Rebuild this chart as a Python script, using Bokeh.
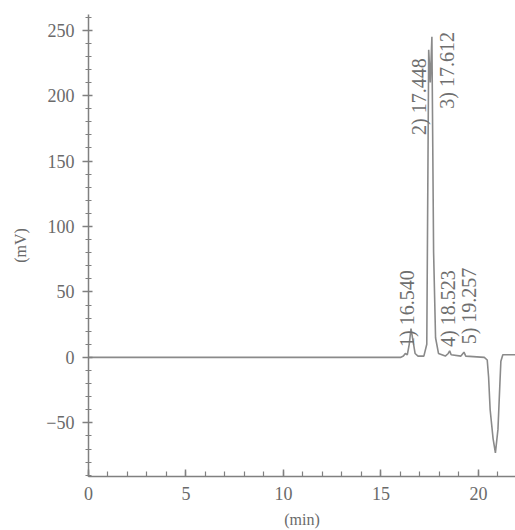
from bokeh.plotting import figure
from bokeh.models import Range1d, FixedTicker, ColumnDataSource
from bokeh.core.properties import value
from bokeh.embed import file_html
from bokeh.resources import INLINE
import math

# chromatogram trace (time in min, signal in mV)
time_min = [0.0, 5.0, 10.0, 15.0, 16.0, 16.15, 16.25, 16.35, 16.45, 16.54, 16.65, 16.75, 16.9,
            17.2, 17.35, 17.448, 17.53, 17.612, 17.7, 17.8, 17.95, 18.3, 18.45, 18.523, 18.6,
            19.1, 19.257, 19.35, 20.3, 20.45, 20.52, 20.6, 20.75, 20.87, 21.0, 21.1, 21.15,
            21.25, 21.9]
signal_mv = [0.0, 0.0, 0.0, 0.0, 0.0, 1.0, 3.0, 2.0, 10.0, 22.0, 12.0, 3.0, 1.0,
             1.0, 10.0, 235.0, 210.0, 245.0, 80.0, 15.0, 3.0, 1.0, 3.0, 5.0, 2.0,
             1.0, 4.0, 1.0, 0.0, -2.0, -15.0, -40.0, -62.0, -73.0, -55.0, -20.0, -3.0,
             2.0, 2.0]

peak_times = [16.540, 17.448, 17.612, 18.523, 19.257]
peak_labels = ["1)  16.540", "2)  17.448", "3)  17.612", "4)  18.523", "5)  19.257"]
label_base = [8.0, 170.0, 190.0, 8.0, 10.0]
label_dx = [-0.21, -0.5, 0.77, -0.08, 0.28]

x_ticks = [0, 5, 10, 15, 20]
y_ticks = [-50, 0, 50, 100, 150, 200, 250]

p = figure(width=515, height=530, output_backend="svg", toolbar_location=None,
           x_range=Range1d(0, 21.9), y_range=Range1d(-91, 262),
           min_border_left=88, min_border_right=0, min_border_top=14, min_border_bottom=52)
p.outline_line_color = None
p.xgrid.visible = False
p.ygrid.visible = False
p.background_fill_color = "white"
p.border_fill_color = "white"

p.line(time_min, signal_mv, line_color="#8a8a8a", line_width=1.6)

src = ColumnDataSource(dict(x=[t + d for t, d in zip(peak_times, label_dx)], y=label_base, t=peak_labels))
p.text(x="x", y="y", text="t", source=src, angle=math.pi / 2, text_align="left", text_baseline="middle",
       text_font=value("Liberation Serif"), text_font_size="20px", text_color="#6e6e6e")

axis_color = "#808080"
for ax in (p.xaxis[0], p.yaxis[0]):
    ax.axis_line_color = axis_color
    ax.axis_line_width = 1.5
    ax.major_tick_line_color = axis_color
    ax.minor_tick_line_color = axis_color
    ax.major_tick_line_width = 1.5
    ax.minor_tick_line_width = 1.2
    ax.major_label_text_font = "Liberation Serif"
    ax.major_label_text_font_size = "18px"
    ax.major_label_text_color = "#6a6a6a"
    ax.axis_label_text_font = "Liberation Serif"
    ax.axis_label_text_font_size = "16px"
    ax.axis_label_text_font_style = "normal"
    ax.axis_label_text_color = "#6a6a6a"

p.xaxis.ticker = FixedTicker(ticks=x_ticks, minor_ticks=list(range(0, 22)))
p.yaxis.ticker = FixedTicker(ticks=y_ticks, minor_ticks=list(range(-90, 261, 10)))
p.xaxis.major_tick_in = 7
p.xaxis.major_tick_out = 0
p.xaxis.minor_tick_in = 5
p.xaxis.minor_tick_out = 0
p.xaxis.major_label_standoff = 10
p.xaxis.axis_label = "(min)"
p.xaxis.axis_label_standoff = 8

p.yaxis.major_tick_in = 4
p.yaxis.major_tick_out = 6
p.yaxis.minor_tick_in = 3
p.yaxis.minor_tick_out = 3
p.yaxis.major_label_standoff = 8
p.yaxis.axis_label = "(mV)"
p.yaxis.axis_label_standoff = 14

open("out.html", "w").write(file_html(p, INLINE))
